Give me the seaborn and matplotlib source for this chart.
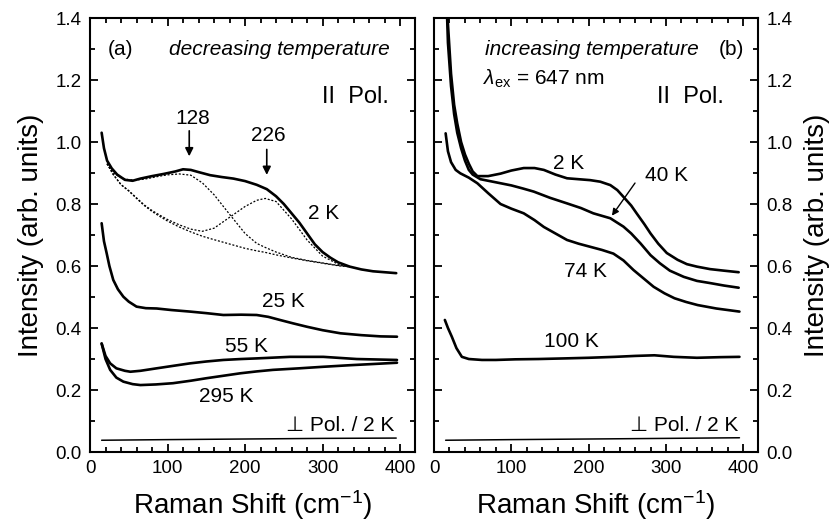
import numpy as np
import pandas as pd
import seaborn as sns
import matplotlib.pyplot as plt
from matplotlib.ticker import MultipleLocator

# ---- panel (a): decreasing temperature, parallel polarisation ----
a_2k_x = [15, 18, 22, 28, 35, 45, 55, 65, 80, 95, 110, 120, 130, 140, 155, 170, 185, 200,
          215, 228, 240, 250, 260, 270, 280, 290, 300, 310, 320, 335, 350, 365, 380, 395]
a_2k_y = [1.03, 0.98, 0.94, 0.915, 0.895, 0.878, 0.875, 0.882, 0.89, 0.897, 0.905, 0.912, 0.91,
          0.903, 0.893, 0.887, 0.882, 0.874, 0.862, 0.848, 0.825, 0.80, 0.77, 0.74, 0.705, 0.67,
          0.645, 0.627, 0.612, 0.598, 0.589, 0.583, 0.58, 0.577]

a_25k_x = [15, 18, 21.5, 25, 30, 36, 43, 50, 60, 72, 86, 105, 129, 150, 172, 195, 215, 230,
           245, 262, 280, 300, 323, 350, 375, 396]
a_25k_y = [0.738, 0.68, 0.641, 0.60, 0.555, 0.525, 0.501, 0.485, 0.469, 0.464, 0.463, 0.458,
           0.453, 0.448, 0.442, 0.443, 0.442, 0.436, 0.426, 0.415, 0.404, 0.393, 0.383, 0.377,
           0.373, 0.372]

a_55k_x = [15, 20, 26, 34, 45, 52, 65, 86, 110, 129, 150, 172, 195, 215, 258, 301, 344, 396]
a_55k_y = [0.35, 0.31, 0.286, 0.27, 0.262, 0.259, 0.262, 0.27, 0.279, 0.286, 0.292, 0.297,
           0.30, 0.302, 0.307, 0.307, 0.30, 0.297]

a_295k_x = [15, 20, 26, 34, 43, 55, 65, 85, 107, 130, 150, 172, 194, 215, 236, 270, 301, 335,
            366, 396]
a_295k_y = [0.35, 0.30, 0.265, 0.24, 0.227, 0.219, 0.216, 0.218, 0.222, 0.23, 0.238, 0.246,
            0.254, 0.26, 0.265, 0.27, 0.275, 0.28, 0.284, 0.288]

perp_x = [15, 100, 200, 300, 395]
perp_a_y = [0.038, 0.040, 0.042, 0.044, 0.045]

# fit curves (dotted) for the 2 K spectrum
fit_x = [22, 30, 40, 50, 60, 70, 80, 90, 100, 115, 130, 145, 160, 180, 200, 215, 226, 240,
         260, 280, 300, 320, 335]
fit_base = [0.93, 0.895, 0.862, 0.842, 0.818, 0.795, 0.776, 0.760, 0.745, 0.726, 0.710, 0.696,
            0.685, 0.671, 0.657, 0.649, 0.644, 0.636, 0.626, 0.617, 0.609, 0.601, 0.597]
fit_peak226 = [0.93, 0.895, 0.863, 0.843, 0.82, 0.797, 0.779, 0.764, 0.75, 0.733, 0.719, 0.712,
               0.722, 0.757, 0.792, 0.812, 0.818, 0.808, 0.752, 0.684, 0.632, 0.606, 0.598]
fit_peak128 = [0.93, 0.90, 0.885, 0.878, 0.878, 0.88, 0.885, 0.89, 0.894, 0.897, 0.893, 0.868,
               0.83, 0.767, 0.705, 0.673, 0.66, 0.645, 0.628, 0.618, 0.61, 0.602, 0.598]

# ---- panel (b): increasing temperature ----
b_2k_x = [15, 18, 22, 26, 30, 35, 40, 45, 50, 56, 70, 86, 100, 116, 130, 142, 157, 172, 187,
          202, 215, 228, 237, 245, 255, 262, 272, 280, 290, 301, 315, 327, 340, 357, 375, 394]
b_2k_y = [1.60, 1.38, 1.22, 1.12, 1.06, 1.0, 0.96, 0.93, 0.905, 0.89, 0.89, 0.898, 0.908,
          0.916, 0.916, 0.91, 0.895, 0.883, 0.88, 0.877, 0.872, 0.861, 0.845, 0.823, 0.795,
          0.77, 0.735, 0.705, 0.672, 0.642, 0.62, 0.606, 0.598, 0.59, 0.585, 0.58]

b_40k_x = [15, 18, 22, 26, 30, 35, 40, 45, 50, 60, 70, 86, 100, 115, 129, 150, 172, 190, 206,
           228, 245, 255, 267, 280, 292, 305, 323, 340, 357, 375, 394]
b_40k_y = [1.55, 1.32, 1.18, 1.09, 1.03, 0.98, 0.94, 0.91, 0.895, 0.88, 0.875, 0.867, 0.86,
           0.85, 0.84, 0.82, 0.802, 0.787, 0.77, 0.754, 0.727, 0.705, 0.673, 0.635, 0.609,
           0.585, 0.565, 0.552, 0.545, 0.537, 0.53]

b_74k_x = [15, 18, 22, 28, 34, 45, 56, 70, 86, 100, 116, 130, 142, 157, 172, 187, 202, 217,
           232, 245, 258, 271, 284, 298, 311, 326, 341, 365, 395]
b_74k_y = [1.028, 0.97, 0.935, 0.91, 0.899, 0.885, 0.867, 0.835, 0.80, 0.785, 0.77, 0.748,
           0.726, 0.705, 0.684, 0.672, 0.662, 0.652, 0.64, 0.618, 0.587, 0.56, 0.533, 0.512,
           0.496, 0.484, 0.474, 0.463, 0.453]

b_100k_x = [14, 18, 23, 29, 36, 45, 62, 80, 105, 135, 169, 200, 234, 260, 285, 310, 340, 370,
            395]
b_100k_y = [0.426, 0.40, 0.372, 0.335, 0.307, 0.30, 0.297, 0.297, 0.299, 0.30, 0.302, 0.304,
            0.307, 0.310, 0.312, 0.307, 0.304, 0.306, 0.307]

perp_b_y = [0.038, 0.040, 0.042, 0.044, 0.046]

sns.set_style('ticks')
plt.rcParams['font.family'] = ['Liberation Sans', 'DejaVu Sans']
plt.rcParams['mathtext.fontset'] = 'custom'
plt.rcParams['mathtext.rm'] = 'Liberation Sans'
plt.rcParams['mathtext.it'] = 'Liberation Sans:italic'
for key in ['text.color', 'axes.labelcolor', 'xtick.color', 'ytick.color', 'axes.edgecolor']:
    plt.rcParams[key] = 'black'

fig = plt.figure(figsize=(8.35, 5.25), dpi=100)
ax1 = fig.add_axes([0.1078, 0.139, 0.389, 0.8267])
ax2 = fig.add_axes([0.5198, 0.139, 0.388, 0.8267])


def curve(ax, x, y, lw=1.9, **kw):
    sns.lineplot(x=x, y=y, ax=ax, color='black', lw=lw, **kw)


for x, y in [(a_2k_x, a_2k_y), (a_25k_x, a_25k_y), (a_55k_x, a_55k_y), (a_295k_x, a_295k_y)]:
    curve(ax1, x, y)
curve(ax1, perp_x, perp_a_y, lw=1.1)
for y in [fit_base, fit_peak226, fit_peak128]:
    curve(ax1, fit_x, y, lw=0.9, linestyle=(0, (1.6, 1.4)))

for x, y in [(b_2k_x, b_2k_y), (b_40k_x, b_40k_y), (b_74k_x, b_74k_y), (b_100k_x, b_100k_y)]:
    curve(ax2, x, y)
curve(ax2, perp_x, perp_b_y, lw=1.1)

for ax in (ax1, ax2):
    ax.set_xlim(0, 419)
    ax.set_ylim(0, 1.4)
    ax.xaxis.set_major_locator(MultipleLocator(100))
    ax.xaxis.set_minor_locator(MultipleLocator(20))
    ax.yaxis.set_major_locator(MultipleLocator(0.2))
    ax.yaxis.set_minor_locator(MultipleLocator(0.1))
    ax.yaxis.set_major_formatter(plt.FormatStrFormatter('%.1f'))
    ax.tick_params(which='both', direction='in', top=True, bottom=True, left=True, right=True,
                   width=1.3, color='black')
    ax.tick_params(which='major', length=6, labelsize=13.5, pad=6)
    ax.tick_params(which='minor', length=3.5)
    for s in ax.spines.values():
        s.set_linewidth(1.5)
        s.set_color('black')
    ax.set_xlabel('Raman Shift (cm$^{-1}$)', fontsize=20, labelpad=8)
    ax.set_ylabel('Intensity (arb. units)', fontsize=20, labelpad=8)
    ax.text(393, 0.087, '\u22a5 Pol. / 2 K', fontsize=15, ha='right', va='center')

ax2.tick_params(axis='y', which='both', labelleft=False, labelright=True)
ax2.yaxis.set_label_position('right')

# panel (a) labels
ax1.text(23, 1.30, '(a)', fontsize=15, va='center')
ax1.text(387, 1.30, 'decreasing temperature', fontsize=15, style='italic', ha='right', va='center')
ax1.text(385, 1.145, 'II  Pol.', fontsize=17, ha='right', va='center')
ax1.text(133, 1.075, '128', fontsize=15, ha='center', va='center')
ax1.text(230, 1.02, '226', fontsize=15, ha='center', va='center')
arrow = dict(arrowstyle='-|>', color='black', lw=1.2, mutation_scale=12)
ax1.annotate('', xy=(128, 0.945), xytext=(128, 1.045), arrowprops=arrow)
ax1.annotate('', xy=(228, 0.885), xytext=(228, 0.985), arrowprops=arrow)
ax1.text(301, 0.77, '2 K', fontsize=15, ha='center', va='center')
ax1.text(249, 0.485, '25 K', fontsize=15, ha='center', va='center')
ax1.text(202, 0.34, '55 K', fontsize=15, ha='center', va='center')
ax1.text(176, 0.178, '295 K', fontsize=15, ha='center', va='center')

# panel (b) labels
ax2.text(343, 1.30, 'increasing temperature', fontsize=15, style='italic', ha='right', va='center')
ax2.text(385, 1.30, '(b)', fontsize=15, ha='center', va='center')
ax2.text(63, 1.205, r'$\lambda_{\rm ex}$ = 647 nm', fontsize=15, va='center')
ax2.text(375, 1.145, 'II  Pol.', fontsize=17, ha='right', va='center')
ax2.text(174, 0.931, '2 K', fontsize=15, ha='center', va='center')
ax2.text(301, 0.891, '40 K', fontsize=15, ha='center', va='center')
ax2.annotate('', xy=(228, 0.755), xytext=(262, 0.875),
             arrowprops=dict(arrowstyle='-|>', color='black', lw=1.0, mutation_scale=10))
ax2.text(196, 0.582, '74 K', fontsize=15, ha='center', va='center')
ax2.text(178, 0.356, '100 K', fontsize=15, ha='center', va='center')

fig.savefig('out.png', dpi=100)
